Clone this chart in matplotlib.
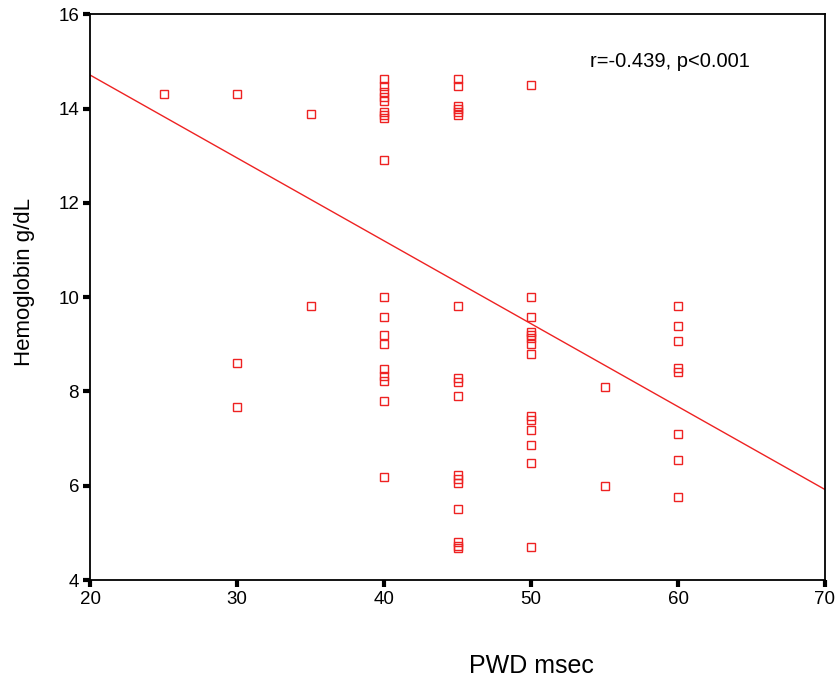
import matplotlib
matplotlib.use("Agg")
import matplotlib.pyplot as plt

plt.rcParams['font.family'] = ['Liberation Sans', 'DejaVu Sans']

# PWD (msec) and hemoglobin (g/dL)
pwd = [25, 30, 30, 30, 35, 35,
       40, 40, 40, 40, 40, 40, 40, 40, 40, 40, 40, 40, 40, 40, 40, 40, 40, 40,
       45, 45, 45, 45, 45, 45, 45, 45, 45, 45, 45, 45, 45, 45, 45, 45, 45,
       50, 50, 50, 50, 50, 50, 50, 50, 50, 50, 50, 50, 50, 50,
       55, 55,
       60, 60, 60, 60, 60, 60, 60, 60]
hb = [14.3, 14.3, 8.6, 7.67, 13.88, 9.81,
      14.63, 14.47, 14.35, 14.25, 14.17, 13.93, 13.86, 13.8, 12.9, 10.0, 9.58, 9.2, 9.01,
      8.47, 8.32, 8.22, 7.8, 6.18,
      14.63, 14.47, 14.06, 13.99, 13.92, 13.86, 9.81, 8.28, 8.2, 7.9, 6.22, 6.14, 6.06,
      5.5, 4.8, 4.73, 4.67,
      14.49, 10.0, 9.58, 9.27, 9.2, 9.13, 9.01, 8.79, 7.48, 7.4, 7.19, 6.87, 6.49, 4.71,
      8.09, 5.99,
      9.81, 9.39, 9.07, 8.49, 8.42, 7.1, 6.55, 5.76]

# regression line
fit_slope = -0.1758
fit_intercept = 18.226
fit_x = [20, 70]

fig = plt.figure(figsize=(8.35, 6.8), dpi=100)
ax = fig.add_axes([0.108, 0.147, 0.880, 0.832])

ax.plot(pwd, hb, linestyle='none', marker='s', markersize=5.2,
        markerfacecolor='none', markeredgecolor='#ee2222', markeredgewidth=1.0)
ax.plot(fit_x, [fit_intercept + fit_slope * x for x in fit_x], color='#ee2222', linewidth=1.0)

ax.set_xlim(20, 70)
ax.set_ylim(4, 16)
ax.set_xticks(range(20, 71, 10))
ax.set_yticks(range(4, 17, 2))
for s in ax.spines.values():
    s.set_linewidth(1.3)
ax.tick_params(direction='out', length=5, width=3, labelsize=13.5, pad=3)

ax.text(54.0, 15.0, 'r=-0.439, p<0.001', fontsize=14.5, va='center')
ax.set_xlabel('PWD msec', fontsize=18, labelpad=28)
ax.xaxis.set_label_coords(0.6, -0.13)
ax.set_ylabel('Hemoglobin g/dL', fontsize=16)
ax.yaxis.set_label_coords(-0.075, 0.527)

fig.savefig('out.png', dpi=100)
